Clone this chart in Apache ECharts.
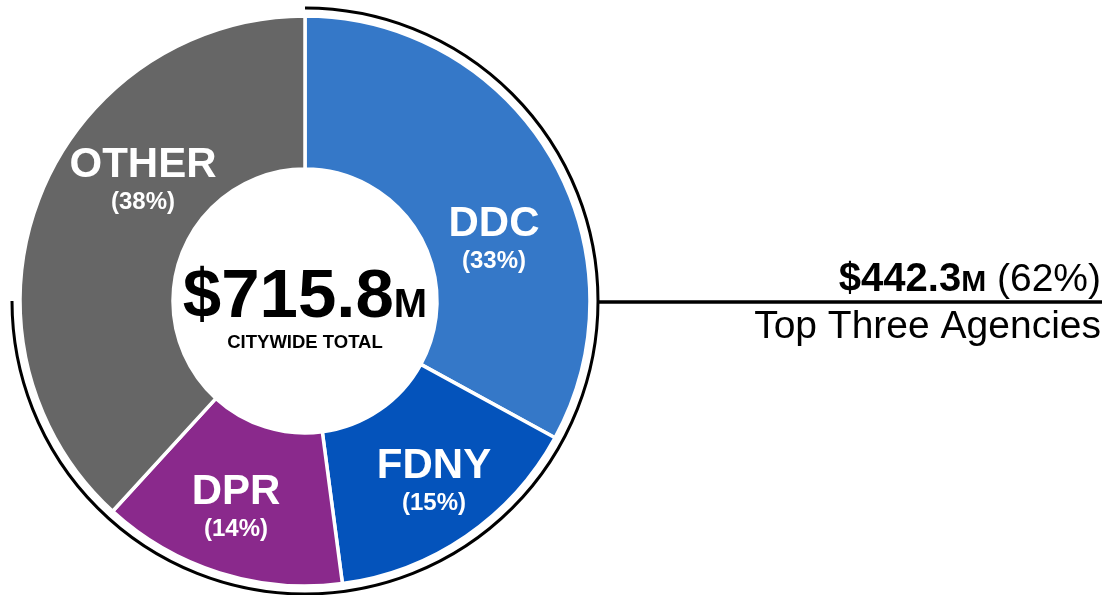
<!DOCTYPE html>
<html>
<head>
<meta charset="utf-8">
<script src="https://cdn.jsdelivr.net/npm/echarts@6/dist/echarts.min.js"></script>
<style>
  html, body { margin: 0; padding: 0; background: #fff; }
  #chart { width: 1109px; height: 595px; }
</style>
</head>
<body>
<div id="chart"></div>
<script>
// capital spending by agency, $ millions
var agencies = ['DDC', 'FDNY', 'DPR', 'OTHER'];
var spending = [236.0, 106.9, 99.4, 273.5];
var topCount = 3;

var FONT = "'Liberation Sans', Arial, Helvetica, sans-serif";
var sliceColors = ['#3578c8', '#0453bb', '#8a298c', '#666666'];
// where each two-line label sits (centre of the block)
var labelPos = [[494, 240], [434, 482], [236, 508], [143, 181]];

var total = 0, topTotal = 0;
for (var i = 0; i < spending.length; i++) {
    total += spending[i];
    if (i < topCount) topTotal += spending[i];
}
var topPct = Math.round(topTotal / total * 100);

var data = [];
for (var i = 0; i < agencies.length; i++) {
    data.push({
        name: agencies[i],
        value: spending[i],
        itemStyle: { color: sliceColors[i] }
    });
}

var chart = echarts.init(document.getElementById('chart'));
var option = {
    backgroundColor: '#fff',
    animation: false,
    series: [
        {
            type: 'pie',
            center: [305, 301],
            radius: [132, 285],
            startAngle: 90,
            clockwise: true,
            silent: true,
            data: data,
            itemStyle: { borderColor: '#fff', borderWidth: 3.5 },
            label: {
                show: true,
                position: 'inside',
                formatter: function (p) {
                    return '{n|' + p.name + '}\n{p|(' + Math.round(p.percent) + '%)}';
                },
                rich: {
                    n: { fontFamily: FONT, fontSize: 42, fontWeight: 'bold', color: '#fff', lineHeight: 42, align: 'center' },
                    p: { fontFamily: FONT, fontSize: 24, fontWeight: 'bold', color: '#fff', lineHeight: 32, align: 'center' }
                }
            },
            labelLine: { show: false },
            labelLayout: function (params) {
                var pos = labelPos[params.dataIndex];
                return { x: pos[0], y: pos[1], align: 'center', verticalAlign: 'middle' };
            },
            emphasis: { disabled: true }
        }
    ],
    graphic: [
        // bracket round the top three
        {
            type: 'arc',
            silent: true,
            shape: { cx: 305, cy: 301, r: 293, startAngle: -Math.PI / 2, endAngle: Math.PI, clockwise: true },
            style: { stroke: '#000', lineWidth: 3, fill: null }
        },
        {
            type: 'line',
            silent: true,
            shape: { x1: 597, y1: 302, x2: 1102, y2: 302 },
            style: { stroke: '#000', lineWidth: 3.5 }
        },
        // centre total
        {
            type: 'text',
            x: 305,
            y: 296,
            silent: true,
            style: {
                text: '{a|$' + total.toFixed(1) + '}{b|M}',
                align: 'center',
                verticalAlign: 'middle',
                rich: {
                    a: { fontFamily: FONT, fontSize: 69, fontWeight: 'bold', fill: '#000', lineHeight: 72, verticalAlign: 'bottom' },
                    b: { fontFamily: FONT, fontSize: 40, fontWeight: 'bold', fill: '#000', lineHeight: 72, verticalAlign: 'bottom', padding: [0, 0, 6, 0] }
                }
            }
        },
        {
            type: 'text',
            x: 305,
            y: 343,
            silent: true,
            style: {
                text: 'CITYWIDE TOTAL',
                fontFamily: FONT, fontSize: 18.5, fontWeight: 'bold', fill: '#000',
                align: 'center', verticalAlign: 'middle'
            }
        },
        // top three call-out
        {
            type: 'text',
            x: 1101,
            y: 277,
            silent: true,
            style: {
                text: '{a|$' + topTotal.toFixed(1) + '}{b|M}{c| (' + topPct + '%)}',
                align: 'right',
                verticalAlign: 'middle',
                rich: {
                    a: { fontFamily: FONT, fontSize: 40, fontWeight: 'bold', fill: '#000', lineHeight: 46, verticalAlign: 'bottom' },
                    b: { fontFamily: FONT, fontSize: 30, fontWeight: 'bold', fill: '#000', lineHeight: 46, verticalAlign: 'bottom', padding: [0, 0, 2, 0] },
                    c: { fontFamily: FONT, fontSize: 39, fill: '#000', lineHeight: 46, verticalAlign: 'bottom' }
                }
            }
        },
        {
            type: 'text',
            x: 1101,
            y: 327,
            silent: true,
            style: {
                text: 'Top Three Agencies',
                fontFamily: FONT, fontSize: 39, fill: '#000',
                align: 'right', verticalAlign: 'middle'
            }
        }
    ]
};
chart.setOption(option);
</script>
</body>
</html>
